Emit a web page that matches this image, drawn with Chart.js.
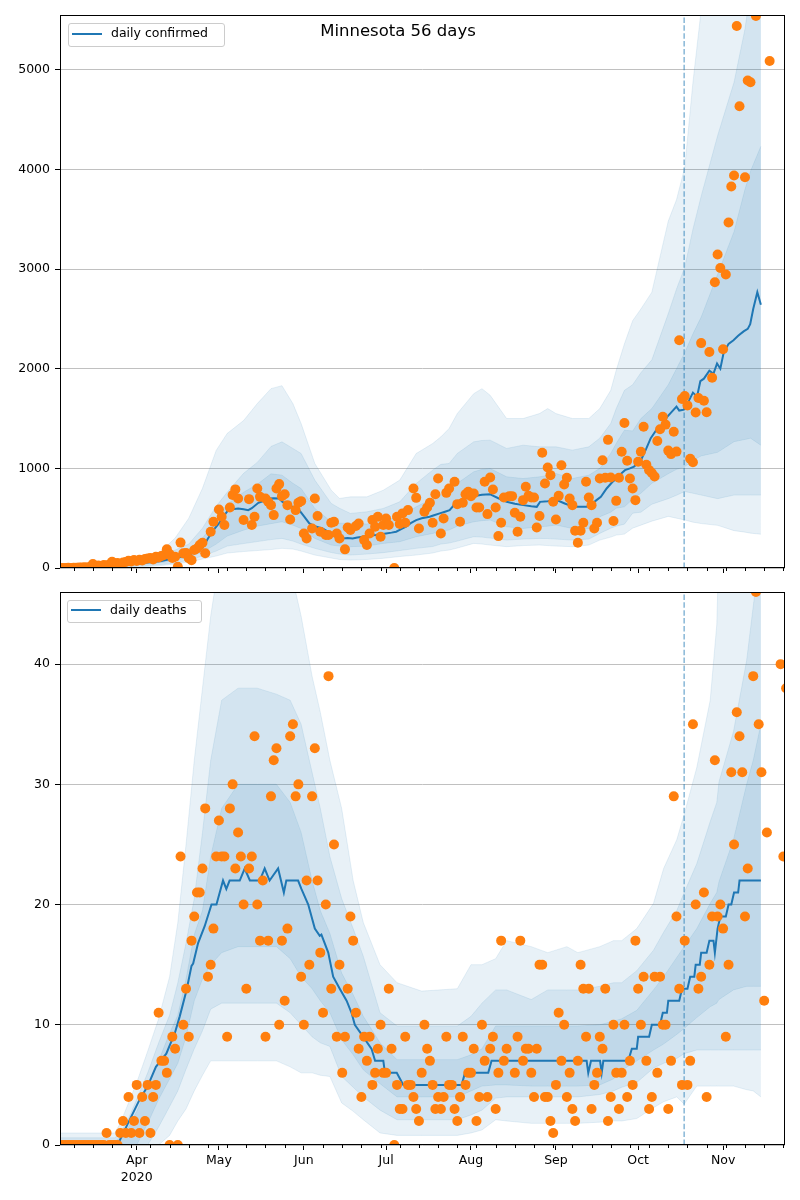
<!DOCTYPE html>
<html>
<head>
<meta charset="utf-8">
<script src="https://cdn.jsdelivr.net/npm/chart.js@4.4.0/dist/chart.umd.min.js"></script>
<style>
body { margin: 0; background: #fff; font-family: "DejaVu Sans", sans-serif; }
#page { position: relative; width: 800px; height: 1200px; overflow: hidden; }
.plot { position: absolute; left: 0; width: 800px; }
.title { position: absolute; left: 0; top: 21px; width: 796px; text-align: center; font-size: 16.5px; line-height: 20px; color: #000; z-index: 5; }
.legend { position: absolute; border: 1px solid #ccc; border-radius: 3px; background: rgba(255,255,255,0.8); z-index: 5; }
.legend .swatch { position: absolute; left: 3px; width: 30px; height: 0; border-top: 2px solid #1f77b4; }
.legend .text { position: absolute; left: 42px; top: 0; font-size: 12.5px; line-height: 18px; color: #000; white-space: nowrap; }
</style>
</head>
<body>
<div id="page">
    <div class="plot" style="top:0; height:590px;"><canvas id="chartConfirmed" width="800" height="590"></canvas></div>
    <div class="plot" style="top:576px; height:624px;"><canvas id="chartDeaths" width="800" height="624"></canvas></div>
    <div class="title">Minnesota 56 days</div>
    <div class="legend" style="left:68px; top:23px; width:155px; height:22px;">
        <div class="swatch" style="top:9px;"></div><div class="text">daily confirmed</div>
    </div>
    <div class="legend" style="left:67px; top:600px; width:133px; height:21px;">
        <div class="swatch" style="top:8px;"></div><div class="text">daily deaths</div>
    </div>
</div>
<script>
// day numbers: 0 = 1 March 2020
var monthDays = [31, 61, 92, 122, 153, 184, 214, 245];
var monthLabels = [['Apr', '2020'], 'May', 'Jun', 'Jul', 'Aug', 'Sep', 'Oct', 'Nov'];
var xMin = 3;
var xMax = 267.6;
var fitDay = 230.8;

var confTicks = [0, 1000, 2000, 3000, 4000, 5000];
var deathTicks = [0, 10, 20, 30, 40];

// daily confirmed, one value per day from day 3
var confStart = 3;
var confirmed = [
    1, 0, 1, 2, 1, 3, 2, 5, 4, 8,
    6, 12, 40, 18, 25, 20, 30, 25, 35, 63,
    45, 50, 40, 55, 60, 73, 65, 80, 70, 83,
    75, 90, 95, 100, 85, 113, 105, 120, 130, 187,
    140, 100, 113, 13, 255, 147, 150, 97, 79, 180,
    196, 230, 254, 148, null, 364, 464, null, 588, 514,
    431, null, 608, 732, 789, 698, null, 481, null, 691,
    431, 514, 798, 714, null, 698, 664, 631, 531, 798,
    842, 721, 741, 631, 487, null, 581, 654, 671, 347,
    297, null, 397, 698, 521, 364, null, 331, 331, 454,
    464, 347, 297, null, 187, 407, 381, null, 421, 447,
    null, 280, 230, 347, 481, 414, 514, 314, 431, 497,
    431, null, 0, 514, 441, 548, 454, 581, null, 798,
    704, 397, null, 564, 608, 654, 454, 741, 898, 347,
    497, 754, 798, null, 865, 641, 464, 654, 741, 765,
    721, 748, 608, 608, null, 865, 541, 908, 788, 608,
    320, 454, 708, null, 721, 721, 554, 364, 514, 681,
    815, 724, 708, 708, 407, 521, 1156, 848, 1009, 932,
    664, 487, 724, 1032, 838, 905, 698, 631, 374, 254,
    374, 454, 865, 708, 631, 397, 454, 898, 1082, 905,
    1286, 908, 471, 674, 905, 1166, 1456, 1076, 898, 798,
    681, 1066, 1166, 1418, 1036, 982, 953, 918, 1275, 1393,
    1518, 1439, 1178, 1143, 1368, 1168, 2285, 1696, 1725, 1632,
    1096, 1061, 1560, 1707, 2257, 1678, 1564, 2168, 1910, 2868,
    3146, 3010, 2196, 2946, 3467, 3828, 3939, 5439, 4635, null,
    3921, 4892, 4875, null, 5540, null, null, null, null, 5089
];

// daily deaths, one value per day from day 3
var deathStart = 3;
var deaths = [
    0, 0, 0, 0, 0, 0, 0, 0, 0, 0,
    0, 0, 0, 0, 0, 0, 0, 1, 0, 0,
    0, 0, 1, 2, 1, 4, 1, 2, 5, 1,
    4, 2, 5, 1, 4, 5, 11, 7, 7, 6,
    0, 9, 8, 0, 24, 10, 13, 9, 17, 19,
    21, 21, 23, 28, 14, 15, 18, 24, 27, 24,
    24, 9, 28, 30, 23, 26, 24, 20, 13, 23,
    24, 34, 20, 17, 22, 9, 17, 29, 32, 33,
    10, 17, 12, 18, 34, 35, 29, 30, 14, 10,
    22, 15, 29, 33, 22, 16, 11, 20, 39, 13,
    25, 9, 15, 6, 9, 13, 19, 17, 11, 8,
    4, 9, 7, 9, 5, 6, 8, 10, 6, 6,
    13, 8, 0, 5, 3, 3, 9, 5, 5, 4,
    3, 2, 6, 10, 8, 7, 5, 3, 4, 3,
    4, 9, 5, 5, 3, 2, 4, 9, 5, 6,
    6, 8, 2, 4, 10, 7, 4, 8, 9, 3,
    6, 17, 7, 8, null, null, 6, 9, 17, 7,
    8, 8, 6, 4, 8, 15, 15, 4, 4, 2,
    1, 5, 11, 7, 10, 4, 6, 3, 2, 7,
    15, 13, 9, 13, 3, 5, 6, 9, 8, 13,
    2, 4, 10, 6, 3, 6, 10, 4, 7, 5,
    17, 13, 10, 14, 7, 3, 4, 14, 6, 14,
    10, 10, 3, 7, 29, 19, 13, 5, 17, 5,
    7, 35, 20, 13, 14, 21, 4, 15, 19, 32,
    19, 20, 18, 9, 15, 31, 25, 36, 34, 31,
    19, 23, null, 39, 46, 35, 31, 12, 26, null,
    null, null, null, 40, 24, 38
];

// model median, confirmed
var confModelDays = [3, 10, 20, 30, 35, 40, 45, 50, 52, 55,
    57, 59, 61, 63, 64.4, 66, 68, 70, 71.7, 73,
    75.4, 77, 79.3, 81, 83, 84.2, 86, 88, 90.3, 92,
    94, 96, 98.8, 100.5, 102.5, 104, 106.1, 108, 109.8, 111.5,
    113.5, 116, 118.3, 120, 122, 124, 125.7, 127.5, 129.3, 131,
    133, 135, 137.9, 139.5, 141.6, 143.5, 145.2, 147.8, 150, 153.8,
    157, 159.9, 163, 166, 169, 172.1, 175, 177, 178.2, 181,
    184.3, 187, 190.3, 193, 195.2, 197, 198.8, 200.4, 202.5, 204.5,
    206.1, 207.5, 209.2, 211, 212.5, 215, 217, 218.6, 221, 222.5,
    224.6, 226, 228, 229, 230.7, 232, 234, 235.5, 236.7, 238,
    240, 241.5, 242.8, 244, 245.2, 247, 248.8, 250.5, 252.5, 254,
    254.9, 256, 257.5, 258.8];
var confModel = [0, 2, 15, 40, 55, 70, 100, 130, 160, 200,
    297, 380, 447, 530, 581, 590, 598, 590, 581, 600,
    654, 670, 698, 700, 698, 664, 640, 610, 581, 520,
    447, 420, 397, 370, 347, 320, 297, 300, 297, 305,
    314, 325, 331, 340, 347, 355, 364, 390, 414, 450,
    481, 500, 514, 530, 548, 565, 581, 664, 690, 721,
    735, 741, 700, 664, 645, 631, 620, 614, 664, 670,
    681, 650, 614, 614, 614, 640, 681, 714, 798, 860,
    898, 940, 982, 1000, 1018, 1080, 1200, 1303, 1400, 1420,
    1518, 1560, 1620, 1580, 1589, 1650, 1760, 1720, 1875, 1900,
    1980, 1950, 2053, 2000, 2160, 2250, 2285, 2330, 2375, 2400,
    2446, 2600, 2768, 2643];

// model bands, confirmed
var confBandDays = [3, 25, 35, 40, 45, 50, 55, 60, 64, 70,
    75, 80, 84, 88, 91, 96, 102, 105, 109, 115,
    121, 127, 133, 139, 142, 145, 148, 154, 157, 160,
    166, 172, 178, 181, 184, 190, 196, 200, 204, 206,
    209, 212, 215, 219, 225, 228, 231, 234, 237, 243,
    249, 253, 255, 258.8];
var confOuterLo = [0, 5, 15, 25, 40, 60, 90, 120, 150, 165,
    175, 185, 197, 190, 170, 130, 100, 85, 80, 85,
    97, 115, 130, 150, 170, 180, 200, 247, 240, 230,
    214, 225, 230, 225, 220, 214, 230, 280, 310, 330,
    340, 400, 430, 470, 518, 500, 482, 460, 446, 428,
    375, 360, 350, 339];
var confMidLo = [0, 10, 25, 35, 50, 80, 120, 170, 220, 245,
    265, 285, 297, 270, 240, 197, 155, 140, 130, 140,
    154, 175, 197, 215, 240, 250, 270, 314, 310, 300,
    280, 290, 297, 295, 290, 280, 290, 347, 400, 420,
    440, 550, 560, 640, 696, 730, 768, 750, 732, 696,
    732, 732, 732, 732];
var confInnerLo = [0, 20, 40, 55, 75, 110, 160, 240, 320, 380,
    420, 445, 464, 430, 397, 297, 230, 220, 214, 220,
    247, 264, 314, 347, 370, 381, 420, 464, 475, 481,
    414, 397, 414, 420, 431, 397, 397, 514, 560, 600,
    614, 690, 750, 850, 946, 990, 1018, 1080, 1125, 1161,
    1268, 1290, 1303, 1232];
var confInnerHi = [5, 40, 70, 95, 130, 190, 300, 470, 640, 760,
    840, 945, 932, 850, 798, 598, 464, 450, 447, 441,
    474, 514, 614, 698, 730, 748, 850, 965, 990, 998,
    915, 898, 915, 930, 948, 898, 932, 1000, 1150, 1250,
    1383, 1375, 1500, 1600, 1839, 2000, 2160, 2350, 2518, 2946,
    3375, 3800, 3982, 4232];
var confMidHi = [10, 50, 90, 125, 180, 240, 400, 620, 760, 950,
    1060, 1220, 1266, 1200, 1149, 882, 648, 600, 548, 564,
    598, 664, 848, 982, 1040, 1049, 1150, 1266, 1280, 1283,
    1200, 1233, 1216, 1216, 1216, 1183, 1216, 1303, 1450, 1600,
    1783, 1839, 1960, 2089, 2553, 2800, 3017, 3400, 3732, 4339,
    4875, 5410, 5800, 6000];
var confOuterHi = [20, 60, 115, 170, 300, 500, 800, 1180, 1350, 1480,
    1650, 1800, 1830, 1650, 1450, 1049, 781, 698, 714, 714,
    781, 882, 1149, 1249, 1316, 1400, 1550, 1750, 1800, 1733,
    1500, 1500, 1550, 1600, 1550, 1500, 1500, 1600, 1783, 1984,
    2250, 2482, 2600, 2768, 3482, 3696, 4017, 4875, 5600, 7000,
    7500, 8000, 8000, 8000];

// model median, deaths
var deathModelDays = [3, 24, 27.8, 32, 35, 38, 41.8, 44.9, 46.7, 49.2,
    51, 51.6, 53.4, 55.8, 58.3, 60.1, 62.5, 63.7, 64.9, 68.6,
    70.4, 72.3, 75.9, 77.7, 79.5, 82.6, 84.7, 85.6, 89.9, 91.1,
    93.6, 96, 97.8, 98.4, 100.9, 102.7, 105.1, 107.6, 109.4, 110.6,
    113.7, 116.7, 118, 121, 121.6, 125.9, 128.3, 149.6, 150.8, 159.3,
    160.5, 195.2, 195.8, 196.8, 200.1, 200.7, 201.3, 210.4, 211.7, 213.5,
    214, 218, 219, 222, 223, 224.5, 225, 229, 230, 232,
    233, 234.5, 235, 236.5, 237, 239, 240, 241.5, 242, 243,
    244, 246, 247, 248, 249, 250.5, 251, 258.8];
var deathModel = [0, 0, 1.8, 3.75, 4.9, 6.5, 7.6, 9.3, 10.7, 12.9,
    14.9, 15.1, 16.8, 18.2, 20, 20, 22, 21.3, 22, 22,
    23, 22, 22, 23, 22, 23, 21, 22, 22, 21.3,
    20, 18, 17.4, 17.5, 16, 14, 13, 12, 11, 10,
    9, 8, 7, 7, 6, 6, 5, 5, 6, 6,
    7, 7, 6, 7, 7, 6, 7, 7, 8, 8,
    9, 9, 10, 10, 11, 11, 12, 12, 13, 13,
    14, 14, 15, 15, 16, 16, 17, 17, 16, 18,
    19, 19, 20, 20, 21, 21, 22, 22];

// model bands, deaths
var deathBandDays = [3, 23, 25, 28, 31, 35, 39, 43, 46, 49,
    52, 55, 58, 62, 68, 75, 82, 87, 91, 95,
    98, 101.5, 105.8, 110, 113.7, 119.8, 126, 135, 148, 153,
    157, 162, 166, 175, 181, 188, 192, 200, 205, 208,
    213.5, 219.6, 223.3, 228.1, 230.8, 235.4, 240.3, 242.7, 243.5, 248.8,
    253.6, 256, 258.8];
var deathOuterLo = [0, 0, 0, 0, 0, 0, 0, 0.8, 2, 3,
    4.5, 5.8, 7, 7, 7, 7, 7, 6.5, 6, 6,
    5.8, 5.7, 3.5, 2.8, 2.1, 1, 0.8, 0.8, 0.8, 1,
    1.25, 2.1, 2, 1.8, 1.8, 1.8, 1.8, 1.9, 2, 2,
    2.2, 3.1, 3.6, 4, 3.4, 4.9, 4.9, 4.9, 4.9, 4.9,
    4.6, 4.5, 4];
var deathMidLo = [0, 0, 0, 0, 0, 0, 1.5, 3.2, 4.5, 6.3,
    8, 9.5, 11.3, 11.8, 11.8, 11.8, 11.8, 11, 10, 9,
    8.5, 8.2, 5.7, 4.8, 4, 2.9, 2.1, 2.1, 2.1, 2.5,
    2.9, 3.9, 4, 4, 4, 4, 4, 4.2, 4.5, 4.8,
    5.2, 6.4, 6.8, 7.2, 7.6, 7.9, 7.9, 7.9, 7.9, 7.9,
    7.9, 7.9, 7.9];
var deathInnerLo = [0, 0, 0, 0, 0, 1.8, 3.8, 5.5, 6.8, 9,
    12, 13.8, 15, 16, 16.5, 16.5, 16.5, 15.5, 14, 13,
    12, 11, 8.75, 7.5, 6.25, 5.1, 4, 4, 4, 4.5,
    4.9, 5, 5, 4.9, 4.9, 4.9, 4.9, 5, 5.5, 6.2,
    7, 7.9, 8.4, 9.2, 9.7, 10.6, 11.5, 11.8, 12.1, 12.9,
    13.2, 13.2, 13.2];
var deathInnerHi = [0.3, 0.3, 0.6, 1.5, 2.8, 4.8, 7, 9.3, 10.8, 13.8,
    17.5, 19.5, 24, 28, 30, 30, 30, 28.5, 26, 22,
    19.5, 17.6, 14.3, 12.5, 10.7, 8.5, 7.1, 7.1, 7.1, 7.5,
    8, 9.9, 9.9, 9.9, 9.9, 9.9, 9.9, 10, 10.3, 10.5,
    11.2, 12.9, 14, 15.6, 16.5, 18, 20.1, 21, 21.9, 25.4,
    30, 32, 35];
var deathMidHi = [0.6, 0.6, 1, 2.2, 3.8, 6, 8.5, 10.8, 13.5, 16.8,
    20.5, 26, 32, 37, 38, 38, 37.5, 37, 35, 31,
    28, 24, 20.5, 18, 15.7, 11, 9.9, 9.9, 9.9, 10.7,
    11.8, 12.9, 12.9, 12.1, 12.9, 12.9, 12.9, 13.2, 13.5, 13.5,
    14.5, 16.2, 17.7, 19.5, 21, 23.4, 26.9, 28.5, 30.2, 34.4,
    40.3, 44.8, 50];
var deathOuterHi = [1, 1, 1.8, 3.5, 5.2, 7.8, 10.5, 14, 18.5, 25,
    32, 38, 44, 50, 50, 50, 50, 48, 44, 39,
    36, 32, 28, 22, 18.5, 15, 13.5, 12.8, 13, 15,
    15, 15.5, 17, 16.5, 16, 16.5, 16, 16.5, 17, 17,
    18, 20.1, 23, 25.4, 27.5, 31.4, 37, 43.3, 50, 55,
    60, 60, 60];

var C0 = '#1f77b4';
var C1 = '#ff7f0e';
var BAND = 'rgba(31, 119, 180, 0.1)';

// weekly minor ticks on Mondays (2 March 2020 = day 1)
var minorDays = [];
for (let d = 1; d < 270; d += 7) {
    if (monthDays.indexOf(d) < 0) minorDays.push(d);
}

Chart.defaults.font.family = '"DejaVu Sans", sans-serif';
Chart.defaults.font.size = 12.5;
Chart.defaults.color = '#000';

function toPoints(days, values)
{
    let out = [];
    for (let i = 0; i < days.length; i++) {
        if (values[i] !== null) out.push({x: days[i], y: values[i]});
    }
    return out;
}

function dailyPoints(start, values)
{
    return toPoints(values.map((v, i) => start + i), values);
}

function bandSets(days, lo, hi)
{
    return [
        {type: 'line', data: toPoints(days, lo), borderColor: BAND, borderWidth: 1,
         pointRadius: 0, fill: false, order: 5},
        {type: 'line', data: toPoints(days, hi), borderColor: BAND, borderWidth: 1,
         pointRadius: 0, backgroundColor: BAND, fill: '-1', order: 5}
    ];
}

var framePlugin = {
    id: 'frame',
    afterDraw: (chart) => {
        let a = chart.chartArea;
        let ctx = chart.ctx;
        let xs = chart.scales.x;
        ctx.save();
        ctx.strokeStyle = '#000';
        ctx.lineWidth = 1;
        ctx.beginPath();
        minorDays.forEach(d => {
            if (d < xs.min || d > xs.max) return;
            let px = Math.round(xs.getPixelForValue(d)) + 0.5;
            ctx.moveTo(px, a.bottom);
            ctx.lineTo(px, a.bottom + 3);
        });
        ctx.stroke();
        ctx.strokeRect(Math.round(a.left) + 0.5, Math.round(a.top) + 0.5,
                       Math.round(a.right - a.left) - 1, Math.round(a.bottom - a.top) - 1);
        ctx.restore();
    }
};

function makeChart(id, setup)
{
    let datasets = [].concat(
        bandSets(setup.bandDays, setup.bands[0], setup.bands[5]),
        bandSets(setup.bandDays, setup.bands[1], setup.bands[4]),
        bandSets(setup.bandDays, setup.bands[2], setup.bands[3]),
        [
            {type: 'line', data: toPoints(setup.modelDays, setup.model), borderColor: C0,
             borderWidth: 2, pointRadius: 0, fill: false, order: 2},
            {type: 'line', data: [{x: fitDay, y: 0}, {x: fitDay, y: setup.yMax}],
             borderColor: 'rgba(31, 119, 180, 0.5)', borderWidth: 1.6, borderDash: [5.5, 2.4],
             pointRadius: 0, fill: false, order: 3},
            {type: 'scatter', data: setup.points, backgroundColor: C1, borderWidth: 0,
             pointRadius: 5, pointHoverRadius: 5, clip: 0, order: 1}
        ]
    );

    return new Chart(document.getElementById(id), {
        type: 'line',
        data: {datasets: datasets},
        options: {
            responsive: false,
            animation: false,
            devicePixelRatio: 1,
            events: [],
            layout: {padding: {left: 0, right: 15, top: setup.padTop, bottom: 0}},
            plugins: {
                legend: {display: false},
                tooltip: {enabled: false}
            },
            scales: {
                x: {
                    type: 'linear',
                    min: xMin,
                    max: xMax,
                    afterFit: (scale) => { scale.height = setup.xHeight; },
                    afterBuildTicks: (scale) => { scale.ticks = monthDays.map(d => ({value: d})); },
                    ticks: {
                        autoSkip: false,
                        maxRotation: 0,
                        padding: 3,
                        color: '#000',
                        font: {lineHeight: 1.3},
                        callback: (value, index) => setup.showLabels ? monthLabels[index] : ''
                    },
                    grid: {drawOnChartArea: false, drawTicks: true, tickLength: 5, tickColor: '#000', tickWidth: 1},
                    border: {display: false}
                },
                y: {
                    min: 0,
                    max: setup.yMax,
                    afterFit: (scale) => { scale.width = 60; },
                    afterBuildTicks: (scale) => { scale.ticks = setup.yTicks.map(v => ({value: v})); },
                    ticks: {padding: 5, color: '#000', callback: (value) => String(value)},
                    grid: {color: '#b0b0b0', lineWidth: 0.8, drawTicks: true, tickLength: 5, tickColor: '#000', tickWidth: 1},
                    border: {display: false}
                }
            }
        },
        plugins: [framePlugin]
    });
}

makeChart('chartConfirmed', {
    bandDays: confBandDays,
    bands: [confOuterLo, confMidLo, confInnerLo, confInnerHi, confMidHi, confOuterHi],
    modelDays: confModelDays,
    model: confModel,
    points: dailyPoints(confStart, confirmed),
    yMax: 5550,
    yTicks: confTicks,
    padTop: 15,
    xHeight: 22,
    showLabels: false
});

makeChart('chartDeaths', {
    bandDays: deathBandDays,
    bands: [deathOuterLo, deathMidLo, deathInnerLo, deathInnerHi, deathMidHi, deathOuterHi],
    modelDays: deathModelDays,
    model: deathModel,
    points: dailyPoints(deathStart, deaths),
    yMax: 46,
    yTicks: deathTicks,
    padTop: 16,
    xHeight: 55,
    showLabels: true
});
</script>
</body>
</html>
